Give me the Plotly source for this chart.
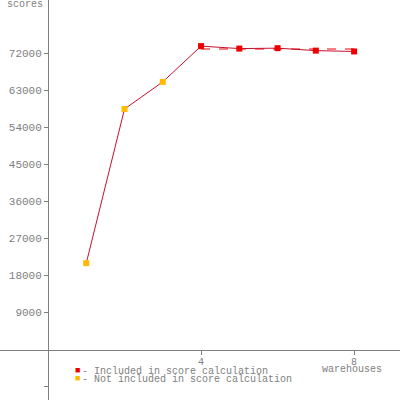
import plotly.graph_objects as go

warehouses = [1, 2, 3, 4, 5, 6, 7, 8]
scores = [21000, 58500, 65100, 73800, 73200, 73300, 72700, 72500]
included = [False, False, False, True, True, True, True, True]

y_tick_vals = [-9000, 9000, 18000, 27000, 36000, 45000, 54000, 63000, 72000]
y_tick_text = ["", "9000", "18000", "27000", "36000", "45000", "54000", "63000", "72000"]
x_tick_vals = [4, 8]
x_tick_text = ["4", "8"]

legend_labels = ["- Included in score calculation", "- Not included in score calculation"]

RED = "#ee0000"
ORANGE = "#ffbb00"
LINE = "#c8102e"
GRAY = "#808080"
FONT = "Liberation Mono"

inc_x = [w for w, i in zip(warehouses, included) if i]
inc_y = [s for s, i in zip(scores, included) if i]
exc_x = [w for w, i in zip(warehouses, included) if not i]
exc_y = [s for s, i in zip(scores, included) if not i]
mean_inc = sum(inc_y) / len(inc_y)

fig = go.Figure()
fig.add_trace(go.Scatter(x=[min(inc_x), max(inc_x)], y=[mean_inc, mean_inc], mode="lines",
                         line=dict(color=RED, width=1.2, dash="dash"), showlegend=False))
fig.add_trace(go.Scatter(x=warehouses, y=scores, mode="lines",
                         line=dict(color=LINE, width=1), showlegend=False))
fig.add_trace(go.Scatter(x=exc_x, y=exc_y, mode="markers",
                         marker=dict(symbol="square", size=6, color=ORANGE), showlegend=False))
fig.add_trace(go.Scatter(x=inc_x, y=inc_y, mode="markers",
                         marker=dict(symbol="square", size=6, color=RED), showlegend=False))

fig.update_layout(
    width=400, height=400, autosize=False,
    margin=dict(l=0, r=0, t=0, b=0, pad=0, autoexpand=False),
    paper_bgcolor="white", plot_bgcolor="white",
    font=dict(family=FONT, size=11, color=GRAY),
    showlegend=False,
    xaxis=dict(range=[-1.255, 9.2], anchor="free", position=50 / 400, automargin=False,
               showline=True, linecolor=GRAY, linewidth=1,
               showgrid=False, zeroline=True, zerolinecolor=GRAY, zerolinewidth=1,
               tickmode="array", tickvals=x_tick_vals, ticktext=x_tick_text,
               ticks="outside", ticklen=4, tickcolor=GRAY, ticklabelstandoff=-2,
               tickfont=dict(family=FONT, size=10, color=GRAY)),
    yaxis=dict(range=[-12284, 85016], anchor="free", position=48 / 400, automargin=False,
               showline=True, linecolor=GRAY, linewidth=1,
               showgrid=False, zeroline=False,
               tickmode="array", tickvals=y_tick_vals, ticktext=y_tick_text,
               ticks="outside", ticklen=4, tickcolor=GRAY,
               tickfont=dict(family=FONT, size=11, color=GRAY)),
)

annotations = [
    dict(text="scores", xref="paper", yref="paper", x=25 / 400, y=1 - 4 / 400,
         xanchor="center", yanchor="middle", showarrow=False,
         font=dict(family=FONT, size=10, color=GRAY)),
    dict(text="warehouses", xref="paper", yref="paper", x=352 / 400, y=1 - 369 / 400,
         xanchor="center", yanchor="middle", showarrow=False,
         font=dict(family=FONT, size=10, color=GRAY)),
]
for k, (lab, col) in enumerate(zip(legend_labels, [RED, ORANGE])):
    yk = 1 - (371 + 8 * k) / 400
    annotations.append(dict(
        text="■", xref="paper", yref="paper", x=77 / 400, y=yk,
        xanchor="center", yanchor="middle", showarrow=False,
        font=dict(family=FONT, size=9, color=col)))
    annotations.append(dict(
        text=lab, xref="paper", yref="paper", x=80 / 400, y=yk,
        xanchor="left", yanchor="middle", showarrow=False,
        font=dict(family=FONT, size=10, color=GRAY)))
fig.update_layout(annotations=annotations)

fig.write_html("out.html", config={"displayModeBar": False},
               post_script="document.body.style.margin='0';")
